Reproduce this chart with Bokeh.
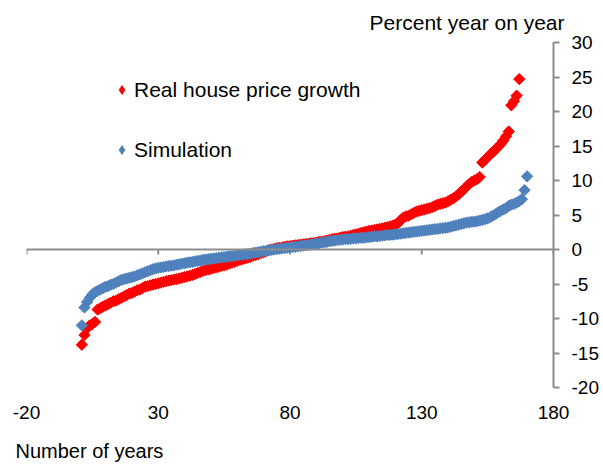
import numpy as np
from bokeh.plotting import figure
from bokeh.models import Span, Title, Legend, LegendItem, FixedTicker
from bokeh.embed import file_html
from bokeh.resources import INLINE

# ---- data ----
real_growth = [
    -13.8, -12.4, -11.4, -11.0, -10.8, -10.5, -8.7, -8.5, -8.3, -8.1,
    -7.9, -7.7, -7.5, -7.4, -7.2, -7.0, -6.8, -6.6, -6.4, -6.3,
    -6.1, -5.9, -5.8, -5.6, -5.4, -5.3, -5.2, -5.1, -5.0, -4.9,
    -4.8, -4.7, -4.6, -4.5, -4.45, -4.35, -4.3, -4.2, -4.1, -4.0,
    -3.9, -3.8, -3.7, -3.55, -3.4, -3.25, -3.1, -3.0, -2.9, -2.8,
    -2.7, -2.6, -2.5, -2.4, -2.3, -2.2, -2.05, -1.9, -1.8, -1.65,
    -1.5, -1.4, -1.3, -1.2, -1.05, -0.9, -0.8, -0.65, -0.5, -0.4,
    -0.25, -0.1, 0.0, 0.1, 0.2, 0.25, 0.3, 0.4, 0.45, 0.5,
    0.55, 0.6, 0.65, 0.7, 0.75, 0.8, 0.85, 0.9, 0.95, 1.0,
    1.1, 1.15, 1.2, 1.3, 1.4, 1.5, 1.55, 1.6, 1.7, 1.8,
    1.85, 1.9, 2.0, 2.1, 2.2, 2.3, 2.4, 2.5, 2.6, 2.7,
    2.75, 2.85, 2.9, 3.0, 3.05, 3.15, 3.25, 3.35, 3.45, 3.6,
    3.8, 4.3, 4.6, 4.8, 4.9, 5.1, 5.3, 5.5, 5.6, 5.7,
    5.8, 5.9, 6.0, 6.15, 6.3, 6.5, 6.6, 6.7, 6.8, 7.0,
    7.2, 7.4, 7.7, 8.0, 8.4, 8.7, 9.1, 9.5, 9.8, 10.0,
    10.2, 10.5, 12.6, 13.0, 13.4, 13.8, 14.1, 14.5, 14.9, 15.3,
    15.8, 16.4, 17.1, 20.9, 21.5, 22.3, 24.7,
]
simulation = [
    -11.0, -8.4, -7.6, -7.0, -6.5, -6.2, -6.0, -5.8, -5.6, -5.4,
    -5.3, -5.1, -5.0, -4.8, -4.6, -4.4, -4.3, -4.2, -4.1, -4.0,
    -3.9, -3.75, -3.6, -3.45, -3.3, -3.15, -3.0, -2.85, -2.75, -2.65,
    -2.6, -2.55, -2.45, -2.4, -2.35, -2.3, -2.2, -2.15, -2.05, -2.0,
    -1.9, -1.85, -1.8, -1.7, -1.65, -1.6, -1.5, -1.45, -1.4, -1.35,
    -1.3, -1.25, -1.2, -1.15, -1.1, -1.05, -1.0, -0.95, -0.9, -0.85,
    -0.8, -0.75, -0.7, -0.65, -0.6, -0.5, -0.45, -0.4, -0.3, -0.25,
    -0.2, -0.1, -0.05, 0.0, 0.05, 0.1, 0.15, 0.2, 0.25, 0.3,
    0.35, 0.4, 0.45, 0.5, 0.55, 0.6, 0.65, 0.7, 0.8, 0.85,
    0.9, 1.0, 1.05, 1.1, 1.2, 1.25, 1.3, 1.35, 1.4, 1.45,
    1.5, 1.5, 1.55, 1.6, 1.6, 1.65, 1.7, 1.7, 1.75, 1.8,
    1.85, 1.9, 1.9, 1.95, 2.0, 2.05, 2.1, 2.1, 2.15, 2.2,
    2.25, 2.3, 2.35, 2.4, 2.45, 2.5, 2.55, 2.6, 2.65, 2.7,
    2.75, 2.8, 2.85, 2.9, 2.95, 3.0, 3.05, 3.1, 3.15, 3.2,
    3.3, 3.4, 3.5, 3.6, 3.7, 3.8, 3.9, 3.95, 4.0, 4.05,
    4.1, 4.2, 4.3, 4.4, 4.5, 4.7, 4.9, 5.1, 5.4, 5.6,
    5.8, 6.0, 6.3, 6.5, 6.6, 6.8, 7.0, 7.3, 8.6, 10.6,
]
real_x = list(range(1, len(real_growth) + 1))
sim_x = list(range(1, len(simulation) + 1))

x_ticks = [-20, 30, 80, 130, 180]
y_ticks = [-20, -15, -10, -5, 0, 5, 10, 15, 20, 25, 30]

series_names = ["Real house price growth", "Simulation"]
x_title = "Number of years"
y_title = "Percent year on year"

RED = "#FF0000"
BLUE = "#4F81BD"
AXIS = "#8C8C8C"
FONT = "Liberation Sans"

p = figure(width=603, height=465, x_range=(-20, 180), y_range=(-20, 30),
           output_backend="svg", toolbar_location=None,
           y_axis_location="right",
           min_border_left=26, min_border_right=50,
           min_border_top=41, min_border_bottom=78)
p.outline_line_color = None
p.xgrid.visible = False
p.ygrid.visible = False
p.background_fill_color = "white"
p.border_fill_color = "white"

# y axis on the right
yax = p.yaxis[0]
yax.ticker = FixedTicker(ticks=y_ticks)
yax.major_label_overrides = {t: str(t) for t in y_ticks}
yax.axis_line_color = AXIS
yax.axis_line_width = 2
yax.major_tick_line_color = AXIS
yax.major_tick_line_width = 2
yax.major_tick_out = 6
yax.major_tick_in = 0
yax.minor_tick_line_color = None
yax.major_label_text_font = FONT
yax.major_label_text_font_size = "19px"
yax.major_label_text_color = "black"
yax.major_label_standoff = 12

# x axis labels at the bottom (its line is drawn at y = 0)
xax = p.xaxis[0]
xax.ticker = FixedTicker(ticks=x_ticks)
xax.major_label_overrides = {t: str(t) for t in x_ticks}
xax.axis_line_color = None
xax.major_tick_line_color = None
xax.major_tick_out = 0
xax.major_tick_in = 0
xax.minor_tick_line_color = None
xax.major_label_text_font = FONT
xax.major_label_text_font_size = "19px"
xax.major_label_text_color = "black"
xax.major_label_standoff = 18

# x title: below the tick labels, left-aligned
if "padding" in Title.properties():
    x_t = Title(text=x_title, align="left", offset=-11, standoff=0,
                vertical_align="bottom", padding=(0, 0, 16, 0),
                text_font=FONT, text_font_size="20px",
                text_font_style="normal", text_color="black")
else:
    x_t = Title(text=x_title, align="left", offset=-11, standoff=14,
                vertical_align="bottom",
                text_font=FONT, text_font_size="20px",
                text_font_style="normal", text_color="black")
p.add_layout(x_t, "below")

p.add_layout(Title(text=y_title, align="right", offset=-11, standoff=17,
                   vertical_align="bottom",
                   text_font=FONT, text_font_size="21px",
                   text_font_style="normal", text_color="black"), "above")

# horizontal axis line at zero with its tick marks
p.add_layout(Span(location=0, dimension="width", line_color=AXIS, line_width=2))
p.segment(x0=x_ticks, y0=[0] * len(x_ticks), x1=x_ticks, y1=[-0.72] * len(x_ticks),
          line_color=AXIS, line_width=2)

r_red = p.scatter(real_x, real_growth, marker="square", angle=np.pi / 4, size=8,
                  fill_color=RED, line_color=RED, line_width=1)
r_blue = p.scatter(sim_x, simulation, marker="square", angle=np.pi / 4, size=8,
                   fill_color=BLUE, line_color=BLUE, line_width=1)

# legend swatches: diamond-shaped renderers of zero size (legend draws its own marker)
lg_red = p.scatter(real_x, real_growth, marker="diamond", size=0,
                   fill_color=RED, line_color=None)
lg_blue = p.scatter(sim_x, simulation, marker="diamond", size=0,
                    fill_color=BLUE, line_color=None)

legend = Legend(items=[LegendItem(label=series_names[0], renderers=[lg_red]),
                       LegendItem(label=series_names[1], renderers=[lg_blue])],
                location=(83, 225), orientation="vertical",
                border_line_color=None, background_fill_alpha=0,
                padding=0, margin=0, spacing=35,
                glyph_width=25, glyph_height=25, label_height=25,
                label_standoff=0, label_text_font=FONT,
                label_text_font_size="21px", label_text_color="black")
p.add_layout(legend, "center")

open("out.html", "w").write(file_html(p, INLINE))
